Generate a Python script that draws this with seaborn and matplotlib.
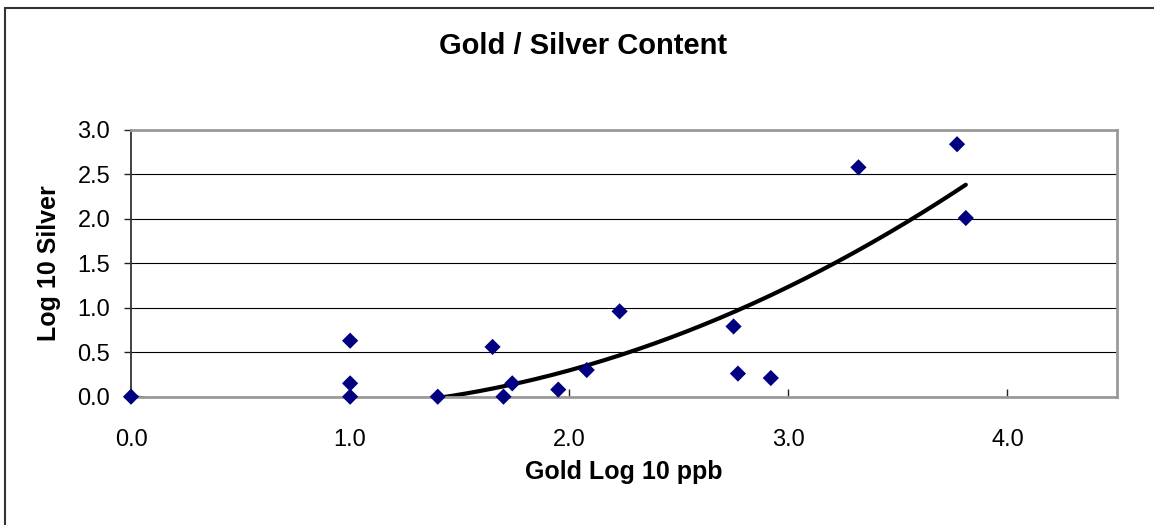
import numpy as np
import pandas as pd
import matplotlib
matplotlib.use("Agg")
import matplotlib.pyplot as plt
from matplotlib.lines import Line2D
from matplotlib.ticker import FormatStrFormatter
import seaborn as sns

# ---- data ----
gold_log = [0.00, 1.00, 1.00, 1.00, 1.40, 1.65, 1.70, 1.74, 1.95, 2.08,
            2.23, 2.75, 2.77, 2.92, 3.32, 3.77, 3.81]
silver_log = [0.00, 0.63, 0.15, 0.00, 0.00, 0.56, 0.00, 0.15, 0.08, 0.30,
              0.96, 0.79, 0.26, 0.21, 2.58, 2.84, 2.01]
# 2nd order polynomial trendline coefficients (a, b, c)
trend_coef = [0.264, -0.380, 0.0]
x_ticks = [0.0, 1.0, 2.0, 3.0, 4.0]
y_ticks = [0.0, 0.5, 1.0, 1.5, 2.0, 2.5, 3.0]
title = "Gold / Silver Content"
x_label = "Gold Log 10 ppb"
y_label = "Log 10 Silver"

df = pd.DataFrame({"gold": gold_log, "silver": silver_log})
trend_x = np.linspace(min(gold_log), max(gold_log), 300)
trend_df = pd.DataFrame({"gold": trend_x, "silver": np.polyval(trend_coef, trend_x)})

sns.set_style("white")
plt.rcParams["font.family"] = ["Liberation Sans", "DejaVu Sans"]
plt.rcParams["text.color"] = "black"
plt.rcParams["axes.labelcolor"] = "black"
plt.rcParams["xtick.color"] = "black"
plt.rcParams["ytick.color"] = "black"

W, H = 1154, 525
fig = plt.figure(figsize=(W / 100, H / 100), dpi=100)
left, right, top, bottom = 131, 1117, 130, 396.7
ax = fig.add_axes([left / W, 1 - bottom / H, (right - left) / W, (bottom - top) / H])

# gridlines
ax.set_axisbelow(True)
ax.yaxis.grid(True, color="black", linewidth=0.8)
ax.xaxis.grid(False)

# trend line
sns.lineplot(data=trend_df, x="gold", y="silver", color="black", linewidth=3.0,
             ax=ax, zorder=3, solid_capstyle="round", sort=False, estimator=None)

# points
sns.scatterplot(data=df, x="gold", y="silver", marker="D", s=68, color="#000080",
                edgecolor="none", linewidth=0, ax=ax, zorder=5, clip_on=False)

ax.set_xlim(0, 4.5)
ax.set_ylim(0, 3.0)
ax.set_xticks(x_ticks)
ax.set_yticks(y_ticks)
ax.xaxis.set_major_formatter(FormatStrFormatter("%.1f"))
ax.yaxis.set_major_formatter(FormatStrFormatter("%.1f"))
ax.tick_params(axis="x", direction="in", length=6, width=1, color="#222222",
               labelcolor="black", pad=23, labelsize=17, bottom=True)
ax.tick_params(axis="y", direction="out", length=5, width=1, color="#222222",
               labelcolor="black", pad=10, labelsize=17, left=True)

for side in ["top", "right", "bottom"]:
    ax.spines[side].set_color("#9a9a9a")
    ax.spines[side].set_linewidth(2.0)
ax.spines["left"].set_color("#333333")
ax.spines["left"].set_linewidth(1.3)
for sp in ax.spines.values():
    sp.set_visible(True)
    sp.set_zorder(4)

ax.set_xlabel(x_label, fontsize=18, fontweight="bold", va="center", color="black")
ax.xaxis.set_label_coords(0.5, (bottom - 472) / (bottom - top))
ax.set_ylabel(y_label, fontsize=18, fontweight="bold", va="center", color="black")
ax.yaxis.set_label_coords((49.5 - left) / (right - left), 0.5)

fig.text(583 / W, 1 - 46 / H, title, ha="center", va="center",
         fontsize=21, fontweight="bold", color="black")

# outer chart border (cropped at right and bottom)
fig.add_artist(Line2D([5 / W, 5 / W], [0, 1 - 7.5 / H], transform=fig.transFigure,
                      color="#333333", linewidth=1.5))
fig.add_artist(Line2D([5 / W, 1], [1 - 7.5 / H, 1 - 7.5 / H], transform=fig.transFigure,
                      color="#333333", linewidth=1.5))

fig.savefig("out.png", dpi=100)
